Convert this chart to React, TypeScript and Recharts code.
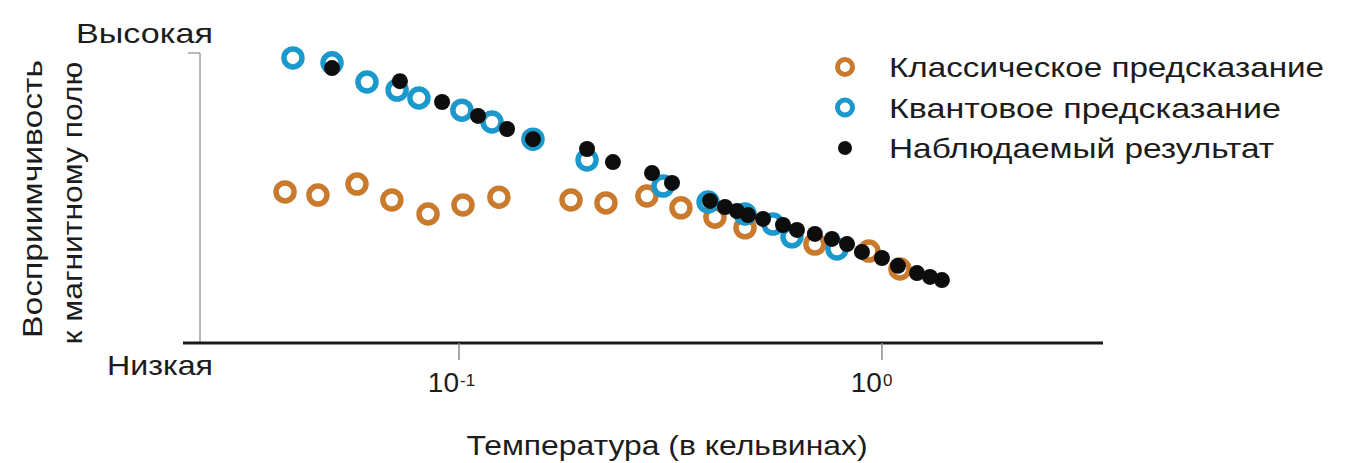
import { ScatterChart, Scatter, XAxis, YAxis, ReferenceLine } from "recharts";

// Температура (K) и восприимчивость (0 = низкая, 1 = высокая)
const classicalT = [0.0388, 0.0464, 0.0574, 0.0694, 0.0845, 0.1022, 0.1243, 0.184, 0.2226, 0.2782, 0.3348, 0.4029, 0.4745, 0.694, 0.9317, 1.103];
const classicalChi = [0.521, 0.51, 0.548, 0.493, 0.445, 0.476, 0.503, 0.493, 0.483, 0.507, 0.466, 0.434, 0.397, 0.341, 0.317, 0.255];

const quantumT = [0.0405, 0.0501, 0.0606, 0.0714, 0.0804, 0.1016, 0.1197, 0.1496, 0.2008, 0.3036, 0.388, 0.4745, 0.5524, 0.6127, 0.7827];
const quantumChi = [0.983, 0.966, 0.9, 0.872, 0.845, 0.803, 0.762, 0.703, 0.631, 0.541, 0.486, 0.445, 0.41, 0.366, 0.324];

const observedT = [0.0501, 0.0725, 0.0912, 0.1109, 0.1299, 0.1496, 0.2008, 0.2312, 0.286, 0.3189, 0.3921, 0.4255, 0.4542, 0.4823, 0.5234, 0.5834, 0.6295, 0.694, 0.7616, 0.8269, 0.8968, 1.0, 1.091, 1.21, 1.299, 1.386];
const observedChi = [0.948, 0.903, 0.831, 0.783, 0.738, 0.703, 0.669, 0.624, 0.586, 0.552, 0.49, 0.469, 0.455, 0.441, 0.428, 0.407, 0.39, 0.376, 0.359, 0.341, 0.314, 0.293, 0.266, 0.241, 0.228, 0.217];

const xTicks = [0.1, 1];
const yTicks = [0, 1];
const yTickLabels = ["Низкая", "Высокая"];
const seriesNames = ["Классическое предсказание", "Квантовое предсказание", "Наблюдаемый результат"];

const ORANGE = "#C97A2C";
const BLUE = "#1B98CC";
const BLACK = "#0d0d0d";
const TEXT = "#1c1c1c";
const FONT = "'Liberation Sans', Arial, sans-serif";

const X_DOMAIN: [number, number] = [0.02226, 3.331];
const Y_AXIS_T = 0.02442;
const Y_CAP_T = 0.02287;

const toPoints = (t: number[], v: number[]) => t.map((x, i) => ({ t: x, chi: v[i] }));
const classical = toPoints(classicalT, classicalChi);
const quantum = toPoints(quantumT, quantumChi);
const observed = toPoints(observedT, observedChi);

const ring = (color: string) => (props: any) => (
  <circle cx={props.cx} cy={props.cy} r={9} fill="none" stroke={color} strokeWidth={5.5} />
);
const dot = (props: any) => <circle cx={props.cx} cy={props.cy} r={8} fill={BLACK} />;

const PowerTick = (props: any) => {
  const { x, y, payload } = props;
  const exp = Math.round(Math.log10(payload.value));
  return (
    <g fontFamily={FONT} fill={TEXT}>
      <text x={x} y={y + 30} textAnchor="end" fontSize={28}>10</text>
      <text x={x + 1} y={y + 24} textAnchor="start" fontSize={17}>{exp < 0 ? "-" + -exp : exp}</text>
    </g>
  );
};

const LevelTick = (props: any) => {
  const { y, payload } = props;
  const idx = yTicks.indexOf(payload.value);
  const high = idx === 1;
  return (
    <text
      x={213}
      y={high ? y - 10 : y + 32}
      textAnchor="end"
      fontSize={28}
      fontFamily={FONT}
      fill={TEXT}
      textLength={high ? 137 : 106}
      lengthAdjust="spacingAndGlyphs"
    >
      {yTickLabels[idx]}
    </text>
  );
};

const Annotations = () => {
  const legendRows = [
    { name: seriesNames[0], color: ORANGE, ring: true, len: 435 },
    { name: seriesNames[1], color: BLUE, ring: true, len: 392 },
    { name: seriesNames[2], color: BLACK, ring: false, len: 385 },
  ];
  return (
    <g fontFamily={FONT} fill={TEXT} fontSize={28}>
      <text x={667} y={455} textAnchor="middle" textLength={401} lengthAdjust="spacingAndGlyphs">
        Температура (в кельвинах)
      </text>
      <text transform="translate(42,199) rotate(-90)" textAnchor="middle" textLength={278} lengthAdjust="spacingAndGlyphs">
        Восприимчивость
      </text>
      <text transform="translate(82,203) rotate(-90)" textAnchor="middle" textLength={283} lengthAdjust="spacingAndGlyphs">
        к магнитному полю
      </text>
      {legendRows.map((row, i) => {
        const cy = 67 + i * 40.5;
        return (
          <g key={row.name}>
            {row.ring ? (
              <circle cx={845} cy={cy} r={7.5} fill="none" stroke={row.color} strokeWidth={5} />
            ) : (
              <circle cx={845} cy={cy} r={7} fill={row.color} />
            )}
            <text x={889} y={cy + 10} textLength={row.len} lengthAdjust="spacingAndGlyphs">
              {row.name}
            </text>
          </g>
        );
      })}
    </g>
  );
};

export default function App() {
  return (
    <div style={{ position: "absolute", left: 0, top: 0, background: "#fff" }}>
      <ScatterChart width={1352} height={463} margin={{ top: 53, right: 249, bottom: 60, left: 83 }}>
        <XAxis
          dataKey="t"
          type="number"
          scale="log"
          domain={X_DOMAIN}
          allowDataOverflow
          ticks={xTicks}
          tick={(p: any) => <PowerTick {...p} />}
          tickSize={17}
          height={60}
          axisLine={{ stroke: "#1a1a1a", strokeWidth: 3 }}
          tickLine={{ stroke: "#8a8a8a", strokeWidth: 1.5 }}
        />
        <YAxis
          dataKey="chi"
          type="number"
          domain={[0, 1]}
          ticks={yTicks}
          width={100}
          axisLine={false}
          tickLine={false}
          tick={(p: any) => <LevelTick {...p} />}
        />
        <ReferenceLine segment={[{ x: Y_AXIS_T, y: 0 }, { x: Y_AXIS_T, y: 1 }]} stroke="#a0a0a0" strokeWidth={1.5} />
        <ReferenceLine segment={[{ x: Y_CAP_T, y: 1 }, { x: Y_AXIS_T, y: 1 }]} stroke="#a0a0a0" strokeWidth={1.5} />
        <Scatter name={seriesNames[0]} data={classical} shape={ring(ORANGE)} isAnimationActive={false} />
        <Scatter name={seriesNames[1]} data={quantum} shape={ring(BLUE)} isAnimationActive={false} />
        <Scatter name={seriesNames[2]} data={observed} shape={dot} isAnimationActive={false} />
        <Annotations />
      </ScatterChart>
    </div>
  );
}
